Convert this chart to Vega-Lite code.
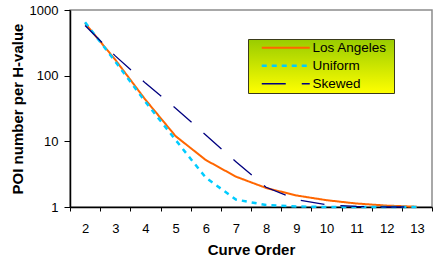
{
  "$schema": "https://vega.github.io/schema/vega-lite/v6.json",
  "width": 362,
  "height": 197,
  "autosize": {"type": "none"},
  "padding": {"left": 70, "top": 10, "right": 2, "bottom": 52},
  "background": "white",
  "config": {
    "font": "Liberation Sans",
    "view": {"stroke": "#8c8c8c", "strokeWidth": 1.5}
  },
  "data": {
    "values": [
      {"order": 2, "series": "Los Angeles", "poi": 630},
      {"order": 3, "series": "Los Angeles", "poi": 175},
      {"order": 4, "series": "Los Angeles", "poi": 43},
      {"order": 5, "series": "Los Angeles", "poi": 12},
      {"order": 6, "series": "Los Angeles", "poi": 5.2},
      {"order": 7, "series": "Los Angeles", "poi": 2.9},
      {"order": 8, "series": "Los Angeles", "poi": 1.95},
      {"order": 9, "series": "Los Angeles", "poi": 1.5},
      {"order": 10, "series": "Los Angeles", "poi": 1.27},
      {"order": 11, "series": "Los Angeles", "poi": 1.13},
      {"order": 12, "series": "Los Angeles", "poi": 1.05},
      {"order": 13, "series": "Los Angeles", "poi": 1.01},
      {"order": 2, "series": "Uniform", "poi": 650},
      {"order": 3, "series": "Uniform", "poi": 165},
      {"order": 4, "series": "Uniform", "poi": 40},
      {"order": 5, "series": "Uniform", "poi": 10.5},
      {"order": 6, "series": "Uniform", "poi": 2.8},
      {"order": 7, "series": "Uniform", "poi": 1.3},
      {"order": 8, "series": "Uniform", "poi": 1.07},
      {"order": 9, "series": "Uniform", "poi": 1.02},
      {"order": 10, "series": "Uniform", "poi": 1.0},
      {"order": 11, "series": "Uniform", "poi": 1.0},
      {"order": 12, "series": "Uniform", "poi": 1.0},
      {"order": 13, "series": "Uniform", "poi": 1.0},
      {"order": 2, "series": "Skewed", "poi": 580},
      {"order": 3, "series": "Skewed", "poi": 200},
      {"order": 4, "series": "Skewed", "poi": 77},
      {"order": 5, "series": "Skewed", "poi": 32},
      {"order": 6, "series": "Skewed", "poi": 12.5},
      {"order": 7, "series": "Skewed", "poi": 4.9},
      {"order": 8, "series": "Skewed", "poi": 2.0},
      {"order": 9, "series": "Skewed", "poi": 1.3},
      {"order": 10, "series": "Skewed", "poi": 1.08},
      {"order": 11, "series": "Skewed", "poi": 1.02},
      {"order": 12, "series": "Skewed", "poi": 1.0},
      {"order": 13, "series": "Skewed", "poi": 1.0}
    ]
  },
  "mark": {"type": "line", "strokeCap": "butt", "clip": false},
  "encoding": {
    "x": {
      "field": "order",
      "type": "ordinal",
      "bandPosition": 0.5,
      "scale": {"type": "band", "paddingInner": 0, "paddingOuter": 0},
      "axis": {
        "title": "Curve Order",
        "labelAngle": 0,
        "tickBand": "extent",
        "domainColor": "black",
        "domainWidth": 1.5,
        "tickColor": "black",
        "tickWidth": 1,
        "tickSize": 4,
        "labelFontSize": 13,
        "labelColor": "black",
        "labelPadding": 11,
        "titleFontSize": 15,
        "titleFontWeight": "bold",
        "titleColor": "black",
        "titlePadding": 7
      }
    },
    "y": {
      "field": "poi",
      "type": "quantitative",
      "scale": {"type": "log", "domain": [1, 1000], "nice": false},
      "axis": {
        "title": "POI number per H-value",
        "values": [1, 10, 100, 1000],
        "format": "d",
        "grid": false,
        "domainColor": "black",
        "domainWidth": 1.5,
        "tickColor": "black",
        "tickSize": 6,
        "labelFontSize": 13,
        "labelColor": "black",
        "labelPadding": 6,
        "titleFontSize": 15,
        "titleFontWeight": "bold",
        "titleColor": "black",
        "titlePadding": 4
      }
    },
    "color": {
      "field": "series",
      "type": "nominal",
      "title": "\u00a0",
      "scale": {"domain": ["Los Angeles", "Uniform", "Skewed"], "range": ["#ff6600", "#00ccff", "#000080"]},
      "legend": {
        "orient": "none",
        "legendX": 178,
        "legendY": 29,
        "fillColor": {"value": {"gradient": "linear", "x1": 0, "y1": 0, "x2": 0, "y2": 1, "stops": [{"offset": 0, "color": "#99cc00"}, {"offset": 1, "color": "#ffff00"}]}},
        "strokeColor": "#3a3a1a",
        "padding": 2,
        "titleOrient": "right",
        "titlePadding": 5,
        "titleFontSize": 13.5,
        "symbolType": "M-6,0H6",
        "symbolSize": 64,
        "symbolOffset": 29,
        "symbolStrokeWidth": 2,
        "labelFontSize": 13.5,
        "labelColor": "black",
        "labelOffset": 20,
        "rowPadding": 3
      }
    },
    "strokeDash": {
      "field": "series",
      "type": "nominal",
      "title": "\u00a0",
      "scale": {"domain": ["Los Angeles", "Uniform", "Skewed"], "range": [[1, 0], [5, 5], [24, 16]]}
    },
    "strokeWidth": {
      "field": "series",
      "type": "nominal",
      "title": "\u00a0",
      "scale": {"type": "ordinal", "domain": ["Los Angeles", "Uniform", "Skewed"], "range": [2, 2.5, 1.3]}
    },
    "order": {"field": "order"}
  }
}
